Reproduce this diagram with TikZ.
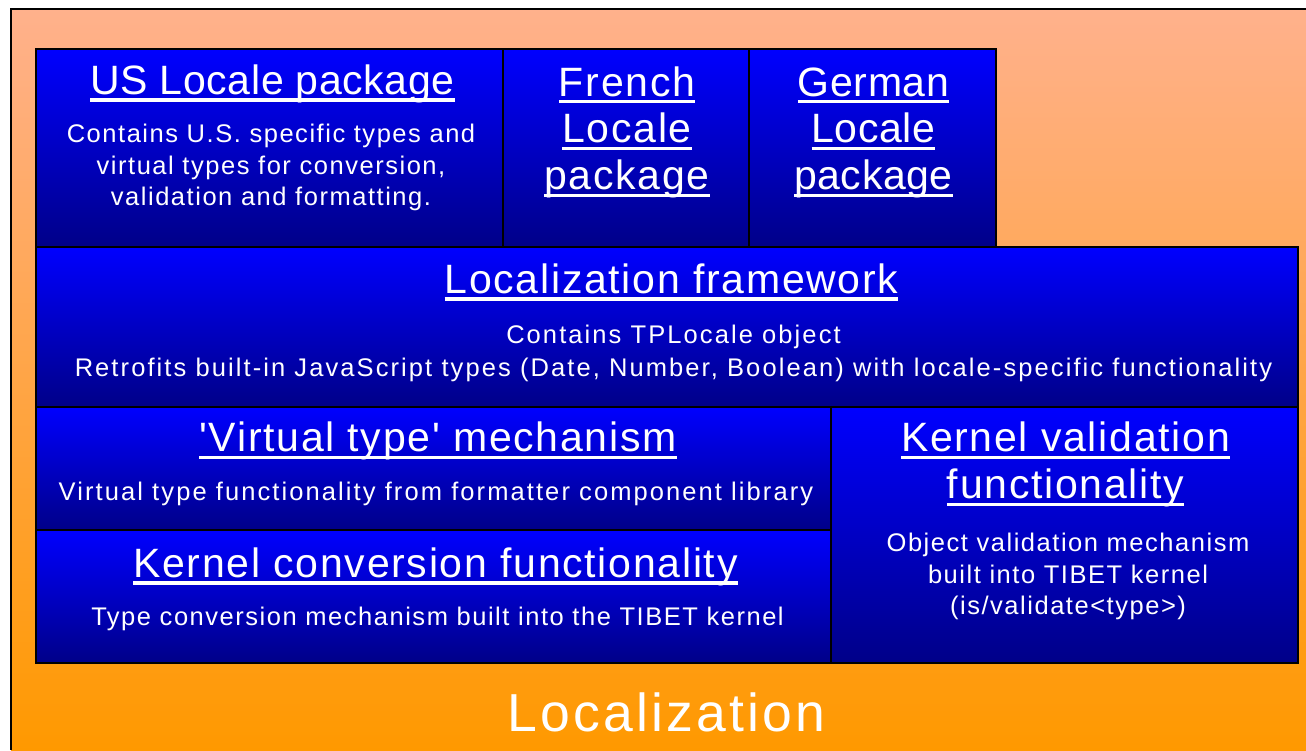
\documentclass[tikz,border=0pt]{standalone}
\usepackage{fontspec}
\setmainfont{Liberation Sans}
\newfontfamily\headfont{Liberation Sans}[LetterSpace=4.2]
\newfontfamily\headfontnarrow{Liberation Sans}[LetterSpace=1.5]
\newfontfamily\descfont{Liberation Sans}[LetterSpace=6]
\newfontfamily\descfontwide{Liberation Sans}[LetterSpace=8.2]

\definecolor{bgtop}{HTML}{FFB18C}
\definecolor{bgbot}{HTML}{FF9900}
\definecolor{paneltop}{HTML}{0000FF}
\definecolor{panelbot}{HTML}{000088}

% underlined heading line with a uniform strut
\newsavebox{\ulbox}
\newcommand{\ulhead}[1]{\strut\sbox{\ulbox}{#1}%
  \rlap{\rule[-7.3pt]{\wd\ulbox}{3.3pt}}\usebox{\ulbox}}

\tikzset{
  panel/.style={draw=black, line width=2pt, top color=paneltop, bottom color=panelbot,
    inner sep=0pt, outer sep=0pt, anchor=north west},
  headtext/.style={text=white, align=center, anchor=north, inner sep=0pt,
    font=\headfont\fontsize{41}{46.7}\selectfont},
  narrowhead/.style={headtext, font=\headfontnarrow\fontsize{41}{46.7}\selectfont},
  desctext/.style={text=white, align=center, anchor=north, inner sep=0pt,
    font=\descfont\fontsize{25.5}{31.5}\selectfont},
  widedesc/.style={desctext, font=\descfontwide\fontsize{25.5}{32.5}\selectfont},
}

\begin{document}
\begin{tikzpicture}[x=1pt,y=-1pt]
\useasboundingbox (0,0) rectangle (1306,750);

% orange slide background with its frame
\shade[top color=bgtop, bottom color=bgbot] (11,9) rectangle (1306,750);
\draw[black, line width=2pt] (11,750) -- (11,9) -- (1306,9);

% layered panels
\node[panel, minimum width=467pt, minimum height=198pt] (us) at (36,49) {};
\node[panel, minimum width=246pt, minimum height=198pt] (fr) at (503,49) {};
\node[panel, minimum width=247pt, minimum height=198pt] (de) at (749,49) {};
\node[panel, minimum width=1262pt, minimum height=160pt] (frame) at (36,247) {};
\node[panel, minimum width=795pt, minimum height=123pt] (virt) at (36,407) {};
\node[panel, minimum width=795pt, minimum height=133pt] (conv) at (36,530) {};
\node[panel, minimum width=467pt, minimum height=256pt] (valid) at (831,407) {};

% US locale
\node[narrowhead] (usT) at (272.5,61.6) {\ulhead{US Locale package}};
\node[desctext] (usD) at (271,120.6) {\strut Contains U.S. specific types and\\
  \strut virtual types for conversion,\\ \strut validation and formatting.};

% French and German locales
\node[headtext] (frT) at (627,63.3) {\ulhead{French}\\ \ulhead{Locale}\\ \ulhead{package}};
\node[narrowhead] (deT) at (873.5,63.3) {\ulhead{German}\\ \ulhead{Locale}\\ \ulhead{package}};

% framework
\node[headtext] (frameT) at (671.5,260.6) {\ulhead{Localization framework}};
\node[widedesc] (frameD) at (673.5,320.9) {\strut Contains TPLocale object\\
  \strut Retrofits built-in JavaScript types (Date, Number, Boolean) with locale-specific functionality};

% virtual types
\node[headtext] (virtT) at (438,419) {\ulhead{'Virtual type' mechanism}};
\node[widedesc] (virtD) at (436,477.6) {\strut Virtual type functionality from formatter component library};

% kernel conversion
\node[headtext] (convT) at (435.5,544.6) {\ulhead{Kernel conversion functionality}};
\node[desctext] (convD) at (437.5,603.3) {\strut Type conversion mechanism built into the TIBET kernel};

% kernel validation
\node[headtext] (validT) at (1065.5,419) {\ulhead{Kernel validation}\\ \ulhead{functionality}};
\node[desctext] (validD) at (1068,529.3) {\strut Object validation mechanism\\
  \strut built into TIBET kernel\\ \strut (is/validate<type>)};

% slide caption
\node[anchor=base, text=white, inner sep=0pt, font=\descfont\fontsize{53.5}{60}\selectfont]
  (caption) at (666.5,731.7) {Localization};
\end{tikzpicture}
\end{document}
